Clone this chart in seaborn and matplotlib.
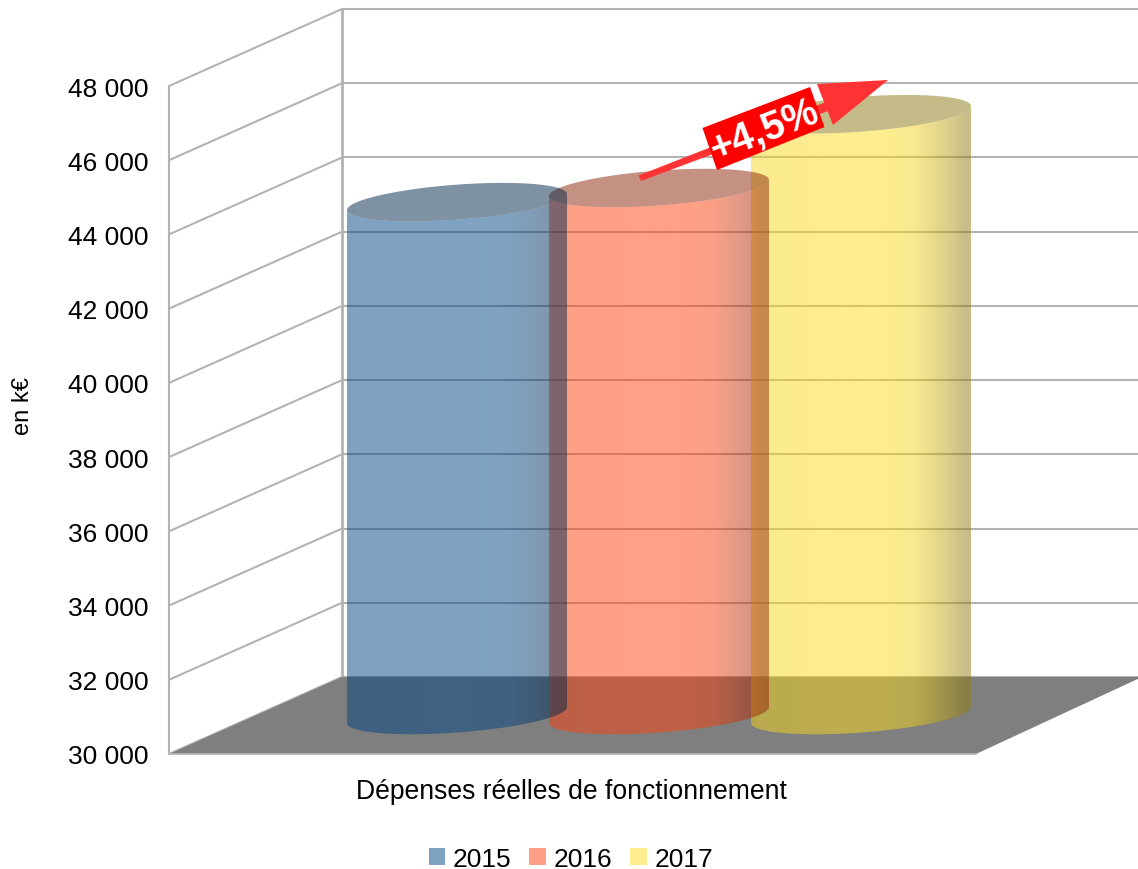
import numpy as np
import pandas as pd
import matplotlib
matplotlib.use("Agg")
import matplotlib.pyplot as plt
from matplotlib.path import Path
from matplotlib.patches import PathPatch, Patch, Polygon
from matplotlib.transforms import Affine2D
from matplotlib.ticker import FuncFormatter
import seaborn as sns

# ---- data ----
years = ["2015", "2016", "2017"]
values = [43820, 44200, 46190]
colors = ["#004586", "#ff420e", "#fcdc20"]
y_ticks = list(range(30000, 48001, 2000))
category = "Dépenses réelles de fonctionnement"
y_title = "en k€"
growth = "+4,5%"

sns.set_theme(style="white")
plt.rcParams["font.family"] = ["Liberation Sans", "DejaVu Sans"]

W, H = 1138, 870
fig = plt.figure(figsize=(W / 100, H / 100), dpi=100, facecolor="white")

# layout in pixels
AX_L, AX_R, AX_B, AX_T = 169, 1138, 755, 3
ax = fig.add_axes([AX_L / W, 1 - AX_B / H, (AX_R - AX_L) / W, (AX_B - AX_T) / H])

PX_PER_UNIT = (755 - 87) / 18000
STEP = 202.0                # px between cylinder centres
C0 = 457.0                  # px of first centre
ux = lambda n: n / STEP     # px -> x units
uy = lambda n: n / PX_PER_UNIT
xv = lambda p: (p - C0) / STEP

df = pd.DataFrame({"year": years, "value": values})
sns.barplot(data=df, x="year", y="value", hue="year", palette=colors, dodge=False,
            width=220 / STEP, legend=False, ax=ax)
bars = list(ax.patches)[:3]
geo = [(b.get_x(), b.get_width(), b.get_height()) for b in bars]
for b in bars:
    b.set_visible(False)

GRID = "#b3b3b3"
LW = 1.5
DX, DY = ux(173), uy(77)
x_front = xv(169)
x_back = x_front + DX
x_end = xv(1145)

for t in y_ticks:
    ax.plot([x_front, x_back], [t, t + DY], color=GRID, lw=LW, zorder=1, solid_capstyle="butt")
    ax.plot([x_back, x_end], [t + DY, t + DY], color=GRID, lw=LW, zorder=1, solid_capstyle="butt")
ax.plot([x_front, x_front], [y_ticks[0], y_ticks[-1]], color=GRID, lw=LW, zorder=1, clip_on=False)
ax.plot([x_back, x_back], [y_ticks[0] + DY, y_ticks[-1] + DY], color=GRID, lw=2.0, zorder=1)

# floor
fx_r = xv(976)
floor = Polygon([(x_front, 30000), (fx_r, 30000), (fx_r + ux(166), 30000 + DY), (x_back, 30000 + DY)],
                closed=True, fc="#7f7f7f", ec="none", zorder=1.5, clip_on=False)
ax.add_patch(floor)
ax.plot([x_front, fx_r], [30000, 30000], color=GRID, lw=1.2, zorder=1.6, clip_on=False)

# cylinders
DEPTH = uy(39)
TILT = uy(8)
SEMI = uy(17.5)
shade_x = np.array([0.0, 0.05, 0.35, 0.60, 0.75, 0.90, 0.97, 1.0])
shade_f = np.array([0.96, 0.98, 1.0, 1.0, 0.96, 0.72, 0.58, 0.56])


def ring(cx, rx, cy, t):
    return cx + rx * np.cos(t), cy + TILT * np.cos(t) + SEMI * np.sin(t)


for i in [2, 1, 0]:
    x0, w, v = geo[i]
    cx, rx = x0 + w / 2, w / 2
    base = np.array(matplotlib.colors.to_rgb(colors[i]))
    cy_top = v + DEPTH
    cy_bot = 30000 + DEPTH
    t_front = np.linspace(np.pi, 2 * np.pi, 80)
    xt, yt = ring(cx, rx, cy_top, t_front)
    xb, yb = ring(cx, rx, cy_bot, t_front)
    verts = np.r_[np.c_[xb, yb], np.c_[xt[::-1], yt[::-1]], [[xb[0], yb[0]]]]
    body = PathPatch(Path(verts, closed=True), fc="none", ec="none", transform=ax.transData)
    ax.add_patch(body)
    n = 240
    u = np.linspace(0, 1, n)
    f = np.interp(u, shade_x, shade_f)
    img = np.zeros((1, n, 4))
    img[0, :, :3] = base[None, :] * f[:, None]
    img[0, :, 3] = 0.5
    top_y = cy_top + uy(25)
    im = ax.imshow(img, extent=[cx - rx, cx + rx, cy_bot - uy(25), top_y], origin="lower",
                   aspect="auto", zorder=2 + (2 - i) * 0.1, interpolation="bilinear")
    im.set_clip_path(body)
    t_all = np.linspace(0, 2 * np.pi, 200)
    xe, ye = ring(cx, rx, cy_top, t_all)
    ax.fill(xe, ye, fc=np.r_[base * 0.55, 0.5], ec="none", zorder=2.05 + (2 - i) * 0.1)

ax.set_xlim(xv(AX_L), xv(AX_R))
ax.set_ylim(30000, 30000 + uy(AX_B - AX_T))

# axes furniture
ax.set_xticks([])
ax.set_yticks(y_ticks)
ax.yaxis.set_major_formatter(FuncFormatter(lambda v, _: f"{int(v):,}".replace(",", " ")))
ax.tick_params(axis="y", length=0, pad=14.5, labelsize=19, labelcolor="black")
for s in ax.spines.values():
    s.set_visible(False)
ax.patch.set_alpha(0)

fig_px = Affine2D().scale(1, -1).translate(0, H)
ax.set_xlabel(category, fontsize=19.1, color="black")
ax.xaxis.set_label_coords(571.5, 792, transform=fig_px)
ax.xaxis.label.set_verticalalignment("center")
ax.set_ylabel(y_title, fontsize=17, color="black")
ax.yaxis.set_label_coords(23, 406, transform=fig_px)
ax.yaxis.label.set_verticalalignment("center")

# growth arrow + label
arrow_col = "#ff3333"
shaft = [(638.5, 176.5), (641, 182), (828, 112), (826, 103)]
head = [(817, 85), (888, 81), (833, 126)]
ax.add_patch(Polygon(shaft, closed=True, fc=arrow_col, ec="none", transform=fig_px, zorder=5, clip_on=False))
ax.add_patch(Polygon(head, closed=True, fc=arrow_col, ec="none", transform=fig_px, zorder=5, clip_on=False))
box = [(702.5, 129), (810, 88), (824.5, 128), (717, 171)]
ax.add_patch(Polygon(box, closed=True, fc="#ff0000", ec="none", transform=fig_px, zorder=6, clip_on=False))
ax.text(764, 130, growth, transform=fig_px, rotation=21, rotation_mode="anchor", ha="center",
        va="center", color="white", fontsize=28.5, fontweight="bold", zorder=7)

# legend
handles = [Patch(fc=np.r_[matplotlib.colors.to_rgb(c), 0.5], ec="none", label=y) for c, y in zip(colors, years)]
fig.legend(handles=handles, loc="center", bbox_to_anchor=(571 / W, 1 - 860 / H), ncol=3, frameon=False,
           fontsize=19, handlelength=0.62, handleheight=0.62, handletextpad=0.3, columnspacing=0.68,
           borderpad=0, labelcolor="black")

fig.savefig("out.png", dpi=100, facecolor="white")
